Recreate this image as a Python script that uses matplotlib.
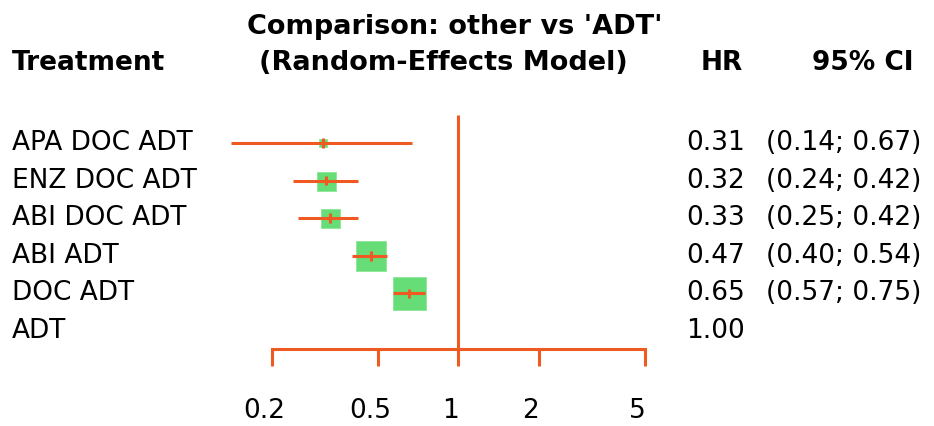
import numpy as np
import matplotlib.pyplot as plt
import matplotlib.transforms as mtransforms

plt.rcParams['font.family'] = ['DejaVu Sans']

# data
treatments = ['APA DOC ADT', 'ENZ DOC ADT', 'ABI DOC ADT', 'ABI ADT', 'DOC ADT', 'ADT']
hr = [0.31, 0.32, 0.33, 0.47, 0.65, 1.00]
lower = [0.14, 0.24, 0.25, 0.40, 0.57, None]
upper = [0.67, 0.42, 0.42, 0.54, 0.75, None]
box_px = [8, 19, 19, 30, 33, 0]      # square side (from study weights)
ticks = [0.2, 0.5, 1, 2, 5]
tick_labels = ['0.2', '0.5', '1', '2', '5']

ORANGE = '#EE5A22'
GREEN = '#66DD77'
W, H = 934, 426

fig = plt.figure(figsize=(W / 100, H / 100), dpi=100)
ax = fig.add_axes([0, 0, 1, 1])
ax.set_xscale('log')
ax.axis('off')

# map pixels -> data (rows and log x)
row0, rowstep = 143, 37.6
def yrow(py):
    return (py - row0) / rowstep

xc, xs = 458.5, 266.8
ax.set_xlim(10 ** ((0 - xc) / xs), 10 ** ((W - xc) / xs))
ax.set_ylim(yrow(H), yrow(0))

fs = 19
tr = ax.get_yaxis_transform()

# header
ax.text(455 / W, yrow(27), "Comparison: other vs 'ADT'", transform=tr, ha='center', va='center',
        fontsize=fs + 0.5, fontweight='bold')
ax.text(443 / W, yrow(63), "(Random-Effects Model)", transform=tr, ha='center', va='center',
        fontsize=fs + 0.5, fontweight='bold')
ax.text(12 / W, yrow(63), 'Treatment', transform=tr, ha='left', va='center', fontsize=fs, fontweight='bold')
ax.text(722 / W, yrow(63), 'HR', transform=tr, ha='center', va='center', fontsize=fs, fontweight='bold')
ax.text(913 / W, yrow(63), '95% CI', transform=tr, ha='right', va='center', fontsize=fs, fontweight='bold')

for i, t in enumerate(treatments):
    ax.text(12 / W, i, t, transform=tr, ha='left', va='center', fontsize=fs)
    ax.text(745 / W, i, '%.2f' % hr[i], transform=tr, ha='right', va='center', fontsize=fs)
    if lower[i] is not None:
        ax.text(921 / W, i, '(%.2f; %.2f)' % (lower[i], upper[i]), transform=tr,
                ha='right', va='center', fontsize=fs)
        s = box_px[i] * 0.72
        ax.scatter([hr[i]], [i], marker='s', s=s ** 2, color=GREEN, edgecolors='#8be897',
                   linewidths=0.6, zorder=2)
        ax.plot([lower[i], upper[i]], [i, i], color=ORANGE, lw=2.2, solid_capstyle='butt', zorder=3)
        ax.plot([hr[i], hr[i]], [i - 0.13, i + 0.13], color=ORANGE, lw=2.2, solid_capstyle='butt', zorder=3)

# reference line and axis
ax.plot([1, 1], [yrow(115), yrow(349)], color=ORANGE, lw=2.2, solid_capstyle='butt')
ax.plot([ticks[0], ticks[-1]], [yrow(349), yrow(349)], color=ORANGE, lw=2.2, solid_capstyle='projecting')
shift = mtransforms.ScaledTranslation(-8 / 100, 0, fig.dpi_scale_trans)
for tk, lab in zip(ticks, tick_labels):
    ax.plot([tk, tk], [yrow(349), yrow(366)], color=ORANGE, lw=2.2, solid_capstyle='butt')
    ax.text(tk, yrow(411), lab, ha='center', va='center', fontsize=fs,
            transform=ax.transData + shift)

fig.savefig('out.png', dpi=100)
